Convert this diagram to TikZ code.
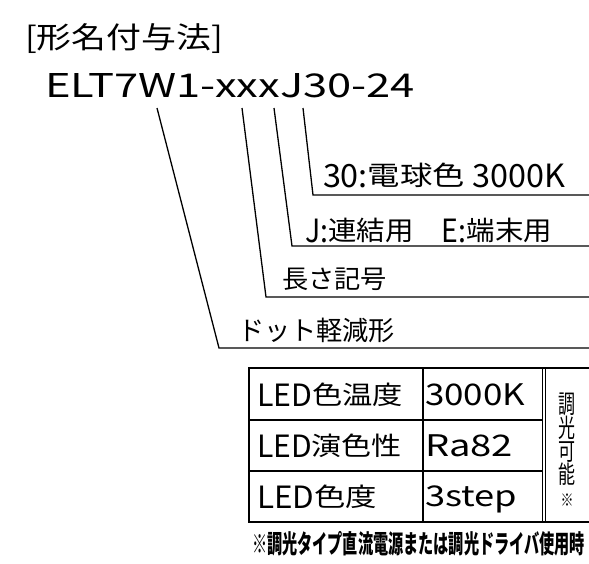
\documentclass[tikz,border=0pt]{standalone}
\usepackage{fontspec}
\setmainfont{Noto Sans CJK JP}
\usepackage{graphicx}
\tikzset{
  txt/.style={anchor=north west, inner sep=0pt, outer sep=0pt},
  leader/.style={line width=1.3pt, line join=miter},
  gridline/.style={line width=1.6pt},
  thinline/.style={line width=1pt},
}
% #1 width, #2 ink height (pt), #3 ink top (em), #4 ink bottom depth (em), #5 text
\newcommand{\fitbox}[5]{\resizebox*{#1pt}{#2pt}{\raisebox{0pt}[#3em][#4em]{#5}}}
\newcommand{\cjkfit}[3]{\fitbox{#1}{#2}{0.83}{0.07}{#3}}
% Latin letters stretched to the height of the kanji, as in the CAD font
\newcommand{\lat}[1]{\raisebox{-0.07em}{\scalebox{1}[1.2]{#1}}}
\begin{document}
\begin{tikzpicture}[x=1pt,y=-1pt]
\useasboundingbox[fill=white] (0,0) rectangle (589,563);
% title and model number
\node[txt] (title) at (25,23) {\fitbox{198}{29}{0.86}{0.12}{[形名付与法]}};
\node[txt] (model) at (45,73) {\fitbox{370}{24}{0.733}{0}{ELT7W1-xxxJ30-24}};
% leader texts
\node[txt] (t30) at (323,163) {\cjkfit{242}{24}{\lat{30:}電球色 \lat{3000K}}};
\node[txt] (tJ) at (305,218) {\cjkfit{247}{24}{\lat{J:}連結用　\lat{E:}端末用}};
\node[txt] (tlen) at (282,267) {\cjkfit{105}{23}{長さ記号}};
\node[txt] (tdot) at (238,318) {\cjkfit{157}{24}{ドット軽減形}};
% leader coordinates
\coordinate (s1) at (157,108); \coordinate (b1) at (219,348); \coordinate (e1) at (589,348);
\coordinate (s2) at (242,108); \coordinate (b2) at (266,297); \coordinate (e2) at (589,297);
\coordinate (s3) at (274,108); \coordinate (b3) at (292,246); \coordinate (e3) at (589,246);
\coordinate (s4) at (303,108); \coordinate (b4) at (313,195); \coordinate (e4) at (589,195);
\draw[leader] (s1) -- (b1) -- (e1);
\draw[leader] (s2) -- (b2) -- (e2);
\draw[leader] (s3) -- (b3) -- (e3);
\draw[leader] (s4) -- (b4) -- (e4);
% table
\coordinate (tl) at (249,368); \coordinate (br) at (593,522);
\draw[gridline] (tl) rectangle (br);
\coordinate (r1l) at (249,420); \coordinate (r1r) at (542,420);
\coordinate (r2l) at (249,471); \coordinate (r2r) at (542,471);
\draw[gridline] (r1l) -- (r1r);
\draw[gridline] (r2l) -- (r2r);
\coordinate (c1t) at (423,368); \coordinate (c1b) at (423,522);
\draw[gridline] (c1t) -- (c1b);
\coordinate (d1t) at (542,368); \coordinate (d1b) at (542,522);
\coordinate (d2t) at (545.5,368); \coordinate (d2b) at (545.5,522);
\draw[thinline] (d1t) -- (d1b);
\draw[thinline] (d2t) -- (d2b);
% table texts
\node[txt] (ct) at (257,383) {\cjkfit{146}{23}{\lat{LED}色温度}};
\node[txt] (cv) at (425,383) {\fitbox{100}{22}{0.74}{0}{3000K}};
\node[txt] (rt) at (257,434) {\cjkfit{145}{23}{\lat{LED}演色性}};
\node[txt] (rv) at (425,434) {\fitbox{88}{22}{0.74}{0}{Ra82}};
\node[txt] (dt) at (257,485) {\cjkfit{120}{23}{\lat{LED}色度}};
\node[txt] (dv) at (425,485) {\fitbox{92}{28}{0.74}{0.24}{3step}};
% vertical text
\node[anchor=north, inner sep=0pt] (v1) at (567,392) {\cjkfit{17}{23}{調}};
\node[anchor=north, inner sep=0pt] (v2) at (567,416) {\cjkfit{17}{23}{光}};
\node[anchor=north, inner sep=0pt] (v3) at (567,440) {\cjkfit{17}{22}{可}};
\node[anchor=north, inner sep=0pt] (v4) at (567,463) {\cjkfit{17}{22}{能}};
\node[anchor=north, inner sep=0pt] (mark) at (567,494) {\fitbox{13}{13}{0.74}{0.02}{※}};
% footnote
\node[txt] (note) at (252,532) {\fitbox{333}{23}{0.83}{0.07}{\bfseries ※調光タイプ直流電源または調光ドライバ使用時}};
\end{tikzpicture}
\end{document}
